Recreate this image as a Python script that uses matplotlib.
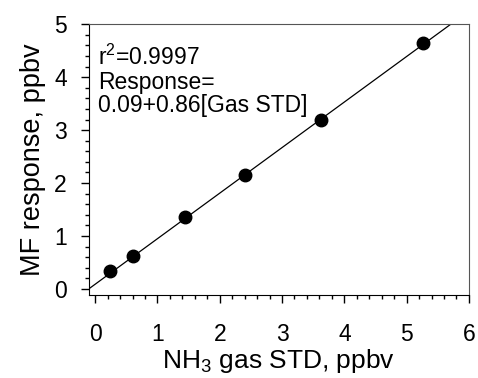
import matplotlib
matplotlib.use('Agg')
import matplotlib.pyplot as plt
from matplotlib.ticker import MultipleLocator
import numpy as np

# gas standard vs measured response (ppbv)
gas_std = [0.24, 0.60, 1.45, 2.41, 3.63, 5.27]
mf_response = [0.34, 0.62, 1.36, 2.16, 3.19, 4.64]
intercept = 0.09
slope = 0.86

plt.rcParams['font.family'] = ['Liberation Sans', 'DejaVu Sans']
plt.rcParams['mathtext.fontset'] = 'custom'
plt.rcParams['mathtext.rm'] = 'Liberation Sans'

fig = plt.figure(figsize=(4.78, 3.78), dpi=100)
ax = fig.add_axes([0.186, 0.220, 0.795, 0.716])

xfit = np.array([-0.1, 6.0])
ax.plot(xfit, intercept + slope * xfit, color='black', lw=0.9)
ax.plot(gas_std, mf_response, 'o', color='black', ms=9, zorder=3)

ax.set_xlim(-0.1, 6)
ax.set_ylim(-0.11, 5)
ax.xaxis.set_major_locator(MultipleLocator(1))
ax.xaxis.set_minor_locator(MultipleLocator(0.2))
ax.yaxis.set_major_locator(MultipleLocator(1))
ax.yaxis.set_minor_locator(MultipleLocator(0.2))
ax.tick_params(which='major', direction='out', length=6, width=1, labelsize=16.5)
ax.tick_params(axis='x', which='major', pad=14)
ax.tick_params(axis='y', which='major', pad=10)
ax.tick_params(which='minor', direction='out', length=3, width=1)
ax.tick_params(top=False, right=False, which='both')

for s in ['top', 'right']:
    ax.spines[s].set_color('#555555')

ax.set_xlabel('NH$_\\mathrm{3}$ gas STD, ppbv', fontsize=19, labelpad=1)
ax.set_ylabel('MF response, ppbv', fontsize=19.5, labelpad=6)

ax.text(0.024, 0.925, 'r$^\\mathrm{2}$=0.9997\nResponse=\n0.09+0.86[Gas STD]',
        transform=ax.transAxes, fontsize=16.5, va='top', ha='left',
        linespacing=1.05)

fig.savefig('out.png', dpi=100)
